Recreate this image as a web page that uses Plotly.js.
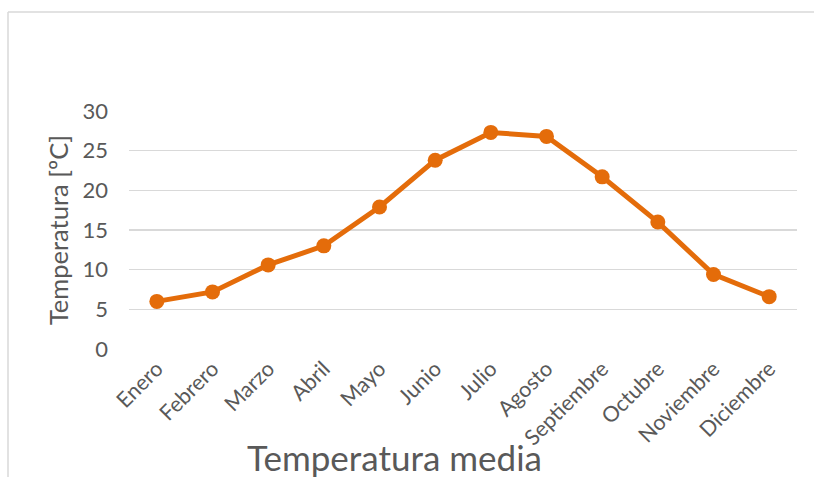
<!DOCTYPE html>
<html>
<head>
<meta charset="utf-8">
<script src="https://cdn.plot.ly/plotly-3.0.1.min.js"></script>
<style>
html,body{margin:0;padding:0;background:#fff;}
#chart{width:814px;height:477px;}
</style>
</head>
<body>
<div id="chart"></div>
<script>
const months = ["Enero","Febrero","Marzo","Abril","Mayo","Junio","Julio","Agosto","Septiembre","Octubre","Noviembre","Diciembre"];
const temps = [6.0, 7.2, 10.6, 13.0, 17.9, 23.8, 27.3, 26.8, 21.7, 16.0, 9.4, 6.6];
const yTicks = [0, 5, 10, 15, 20, 25, 30];
const chartTitle = "Temperatura media";
const yTitle = "Temperatura [ºC]";

const FONT = "Lato, 'Open Sans', sans-serif";
const GRAY = "#595959";
const ORANGE = "#E46C0A";

const trace = {
  x: months,
  y: temps,
  type: "scatter",
  mode: "lines+markers",
  line: {color: ORANGE, width: 5},
  marker: {color: ORANGE, size: 15},
  cliponaxis: false,
  hoverinfo: "x+y"
};

const layout = {
  width: 814,
  height: 477,
  margin: {l: 129, r: 17, t: 111, b: 128},
  paper_bgcolor: "#ffffff",
  plot_bgcolor: "#ffffff",
  showlegend: false,
  font: {family: FONT, color: GRAY},
  xaxis: {
    type: "category",
    range: [-0.5, months.length - 0.5],
    tickangle: -45,
    tickfont: {family: FONT, size: 21.5, color: GRAY},
    showgrid: false,
    showline: false,
    zeroline: false,
    ticks: "",
    ticklabelstandoff: 2
  },
  yaxis: {
    range: [0, 30],
    tickvals: yTicks,
    ticktext: yTicks.map(String),
    tickfont: {family: FONT, size: 22, color: GRAY},
    showgrid: true,
    gridcolor: "#d9d9d9",
    gridwidth: 1.5,
    zeroline: false,
    showline: false,
    ticks: "",
    ticklabelstandoff: 20,
    title: {text: yTitle, font: {family: FONT, size: 25.5, color: GRAY}, standoff: 6}
  },
  annotations: [{
    text: chartTitle,
    xref: "paper", yref: "paper",
    x: (394 - 129) / 668, y: (349 - 457) / 238,
    xanchor: "center", yanchor: "middle",
    showarrow: false,
    font: {family: FONT, size: 35, color: GRAY}
  }],
  shapes: [
    {type: "line", xref: "paper", yref: "paper", x0: (8 - 129) / 668, x1: (820 - 129) / 668, y0: (349 - 12) / 238, y1: (349 - 12) / 238, line: {color: "#d9d9d9", width: 1.5}},
    {type: "line", xref: "paper", yref: "paper", x0: (8 - 129) / 668, x1: (8 - 129) / 668, y0: (349 - 12) / 238, y1: (349 - 490) / 238, line: {color: "#d9d9d9", width: 1.5}}
  ]
};

Plotly.newPlot("chart", [trace], layout, {displayModeBar: false, staticPlot: true});
</script>
</body>
</html>
